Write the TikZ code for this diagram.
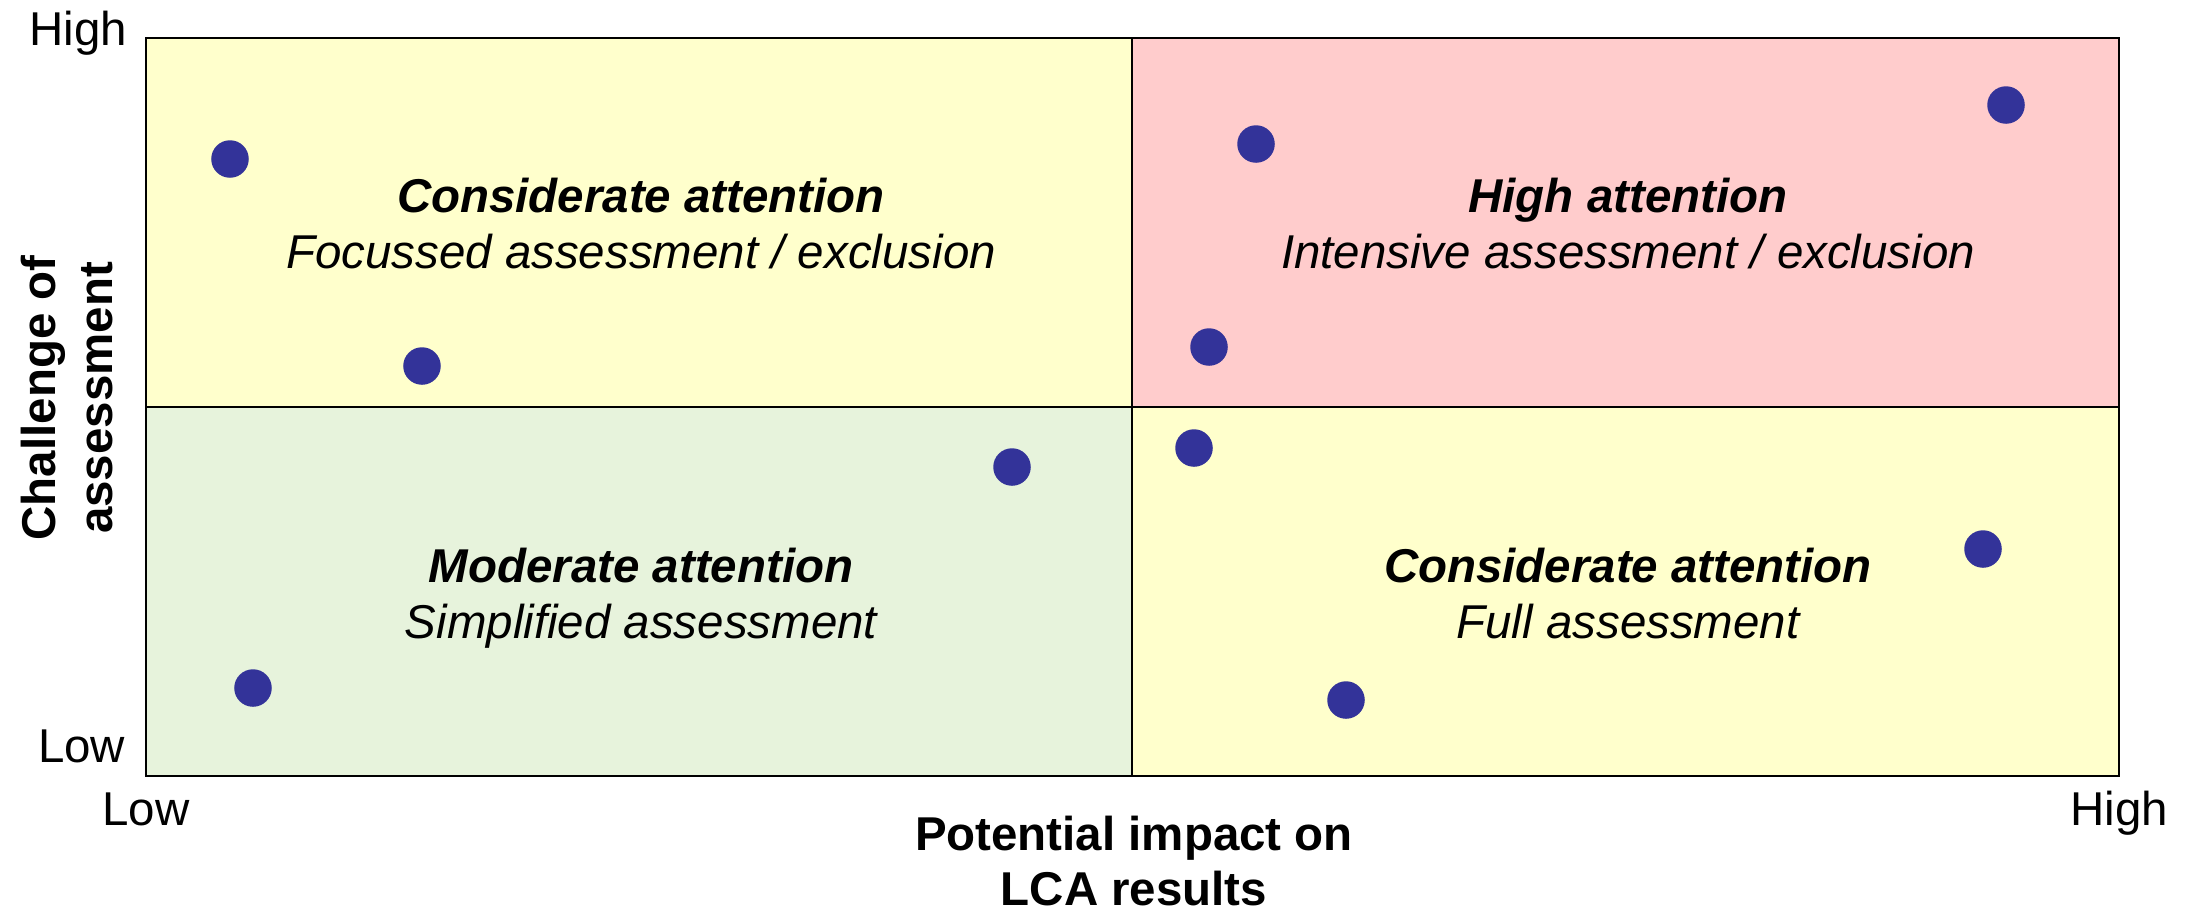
\documentclass[tikz,border=0pt]{standalone}
\usepackage{fontspec}
\setmainfont{Liberation Sans}
\definecolor{qyellow}{HTML}{FFFFCC}
\definecolor{qpink}{HTML}{FFCCCC}
\definecolor{qgreen}{HTML}{E7F3DC}
\definecolor{dotblue}{HTML}{333399}
\tikzset{
  lbl/.style={inner sep=0pt, font=\fontsize{13.5pt}{16pt}\selectfont},
  title/.style={lbl, font=\fontsize{13.5pt}{16pt}\selectfont\bfseries\itshape, anchor=base},
  sub/.style={lbl, font=\fontsize{13.5pt}{16pt}\selectfont\itshape, anchor=base},
  axlbl/.style={lbl, font=\fontsize{13.5pt}{16pt}\selectfont\bfseries, anchor=base},
  dot/.style={circle, fill=dotblue, draw=none, minimum size=0.375cm, inner sep=0pt},
  gridline/.style={line width=0.65pt, black}
}
\begin{document}
\begin{tikzpicture}[x=0.01cm, y=-0.01cm]
\useasboundingbox (0,0) rectangle (2194,911);
% quadrants
\fill[qyellow] (146,38) rectangle (1132,407);
\fill[qpink] (1132,38) rectangle (2119,407);
\fill[qgreen] (146,407) rectangle (1132,776);
\fill[qyellow] (1132,407) rectangle (2119,776);
\draw[gridline] (146,38) rectangle (2119,776);
\draw[gridline] (146,407) -- (2119,407);
\draw[gridline] (1132,38) -- (1132,776);
% quadrant texts
\node[title] (t1) at (641,212) {Considerate attention};
\node[sub] (s1) at (641,268) {Focussed assessment / exclusion};
\node[title] (t2) at (1628,212) {High attention};
\node[sub] (s2) at (1628,268) {Intensive assessment / exclusion};
\node[title] (t3) at (641,582) {Moderate attention};
\node[sub] (s3) at (641,638) {Simplified assessment};
\node[title] (t4) at (1628,582) {Considerate attention};
\node[sub] (s4) at (1628,638) {Full assessment};
% dots
\node[dot] (d1) at (230,159) {};
\node[dot] (d2) at (422,366) {};
\node[dot] (d3) at (1012,467) {};
\node[dot] (d4) at (253,688) {};
\node[dot] (d5) at (1256,144) {};
\node[dot] (d6) at (2006,105) {};
\node[dot] (d7) at (1209,347) {};
\node[dot] (d8) at (1194,448) {};
\node[dot] (d9) at (1983,549) {};
\node[dot] (d10) at (1346,700) {};
% axis end labels
\node[lbl, anchor=base east] (yhigh) at (128,45) {High};
\node[lbl, anchor=base east] (ylow) at (126,762) {Low};
\node[lbl, anchor=base] (xlow) at (146,825) {Low};
\node[lbl, anchor=base] (xhigh) at (2119,825) {High};
% axis titles
\node[axlbl] (xt1) at (1134,850) {Potential impact on};
\node[axlbl] (xt2) at (1134,905) {LCA results};
\node[axlbl, rotate=90] (yt1) at (55,398) {Challenge of};
\node[axlbl, rotate=90] (yt2) at (112,398) {assessment};
\end{tikzpicture}
\end{document}
